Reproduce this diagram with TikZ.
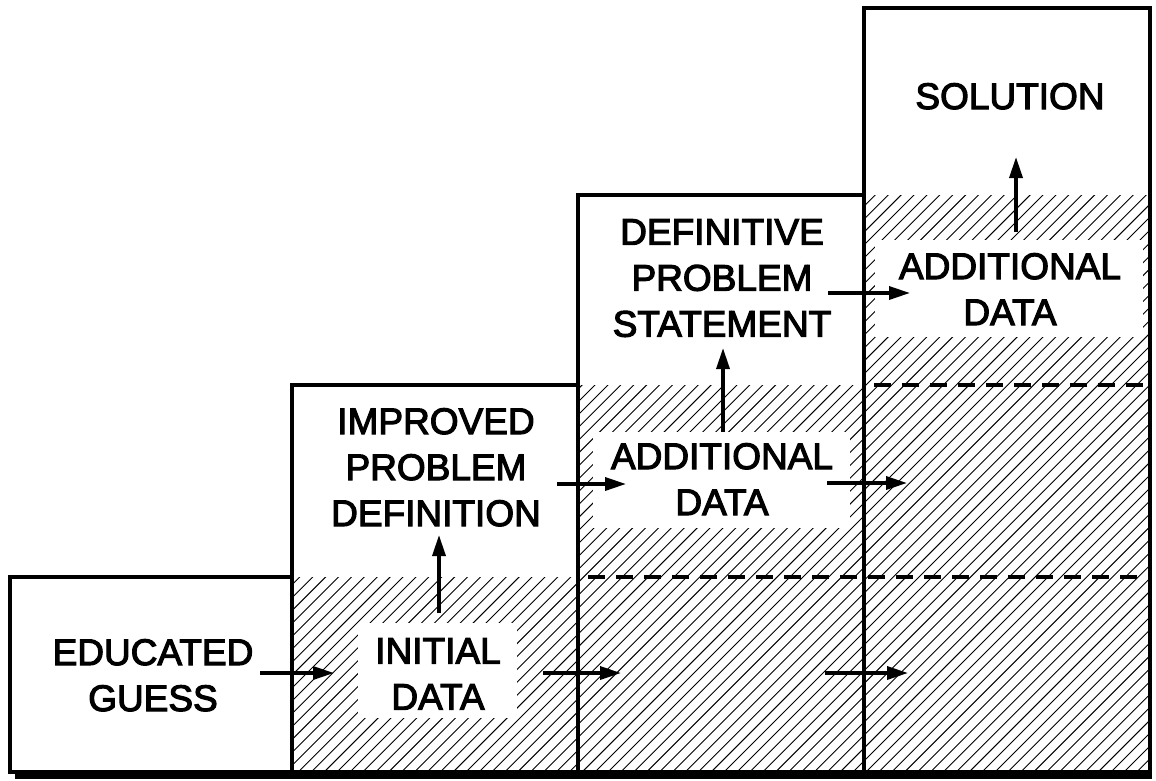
\documentclass[tikz,border=0pt]{standalone}
\usepackage{fontspec}
\setmainfont{Liberation Sans}
\newfontfamily\lblfont{Liberation Sans}[RawFeature={embolden=3}]
\usetikzlibrary{arrows.meta}
\begin{document}
\begin{tikzpicture}[x=1pt,y=-1pt,
  frame/.style={line width=3.2pt, line join=miter},
  lbl/.style={font=\lblfont\fontsize{37}{46}\selectfont, align=center, inner sep=0pt, anchor=north},
  arr/.style={line width=3.4pt, -{Triangle[length=21pt,width=13pt]}},
  dashline/.style={line width=4pt, dash pattern=on 17pt off 11pt},
  hatch/.style={line width=0.9pt},
  blank/.style={fill=white, draw=none}]
\useasboundingbox (0,0) rectangle (1156,780);
% hatching
\begin{scope}
  \clip (292,577) -- (578,577) -- (578,385) -- (864,385) -- (864,195) -- (1150,195) -- (1150,772) -- (292,772) -- cycle;
  \foreach \i in {0,...,116} { \draw[hatch] ({-308+\i*12.9},772) -- ++(600,-600); }
\end{scope}
% white areas behind labels in hatched parts
\fill[blank] (358,623) rectangle (517,718);
\fill[blank] (593,432) rectangle (850,528);
\fill[blank] (875,240) rectangle (1143,337);
% frames
\draw[frame] (10,577) rectangle (292,772);
\draw[frame] (292,385) rectangle (578,772);
\draw[frame] (578,195) rectangle (864,772);
\draw[frame] (864,8) rectangle (1150,772);
\fill (15,772) rectangle (1152,779);
% dashed separators
\draw[dashline] (588,577) -- (1150,577);
\draw[dashline] (874,385) -- (1150,385);
% labels
\node[lbl] (eg)  at (153,639) {EDUCATED\\GUESS};
\node[lbl] (id)  at (438,638) {INITIAL\\DATA};
\node[lbl] (ipd) at (436,408) {IMPROVED\\PROBLEM\\DEFINITION};
\node[lbl] (ad1) at (722,443) {ADDITIONAL\\DATA};
\node[lbl] (dps) at (722,219) {DEFINITIVE\\PROBLEM\\STATEMENT};
\node[lbl] (sol) at (1010,83) {SOLUTION};
\node[lbl] (ad2) at (1010,253) {ADDITIONAL\\DATA};
% arrow end points
\coordinate (a1s) at (260,673);  \coordinate (a1e) at (334,673);
\coordinate (a2s) at (439,613);  \coordinate (a2e) at (439,535);
\coordinate (a3s) at (557,484);  \coordinate (a3e) at (626,484);
\coordinate (a4s) at (543,673);  \coordinate (a4e) at (621,673);
\coordinate (a5s) at (825,673);  \coordinate (a5e) at (908,673);
\coordinate (a6s) at (827,483);  \coordinate (a6e) at (907,483);
\coordinate (a7s) at (723,432);  \coordinate (a7e) at (723,348);
\coordinate (a8s) at (828,293);  \coordinate (a8e) at (910,293);
\coordinate (a9s) at (1016,232); \coordinate (a9e) at (1016,157);
\foreach \k in {1,...,9} { \draw[arr] (a\k s) -- (a\k e); }
\end{tikzpicture}
\end{document}
